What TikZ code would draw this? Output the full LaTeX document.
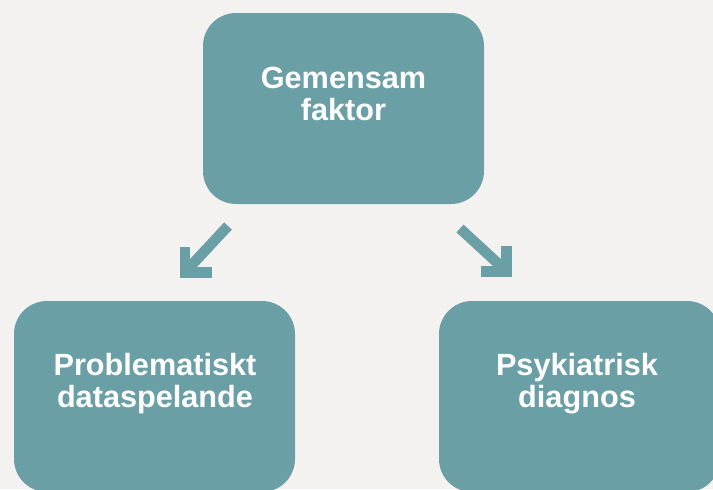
\documentclass[tikz,border=0pt]{standalone}
\usepackage{fontspec}
\setmainfont{Liberation Sans}
\definecolor{tealbox}{RGB}{106,159,165}
\definecolor{bgcol}{RGB}{244,242,241}
\begin{document}
\begin{tikzpicture}[x=0.75pt,y=-0.75pt,
  box/.style={fill=tealbox, rounded corners=24.75pt, minimum width=210.75pt, minimum height=143.25pt, inner sep=0pt, draw=none},
  lbl/.style={text=white, font=\bfseries\fontsize{23}{24}\selectfont, align=center, inner sep=0pt},
  arr/.style={draw=tealbox, line width=7.9pt},
  arrhead/.style={draw=tealbox, line width=7.9pt, miter limit=10}
]
\fill[bgcol] (0,0) rectangle (713,489);
\useasboundingbox (0,0) rectangle (713,489);
\begin{scope}
  \clip (0,0) rectangle (713,489);
  \node[box] (top) at (343.5,108.5) {};
  \node[box] (left) at (154.5,396.5) {};
  \node[box] (right) at (579.5,396.5) {};
\end{scope}
\node[lbl] (toptext) at (343.5,93.5) {Gemensam\\faktor};
\node[lbl] (lefttext) at (155,384) {Problematiskt\\dataspelande};
\node[lbl] (righttext) at (577,384) {Psykiatrisk\\diagnos};
% left arrow
\coordinate (la1) at (228,226);
\coordinate (la2) at (187,270);
\coordinate (lh1) at (185,247);
\coordinate (lh2) at (185,272.5);
\coordinate (lh3) at (212,272.5);
\draw[arr] (la1) -- (la2);
\draw[arrhead] (lh1) -- (lh2) -- (lh3);
% right arrow
\coordinate (ra1) at (460,228.5);
\coordinate (ra2) at (504,269);
\coordinate (rh1) at (506.5,246);
\coordinate (rh2) at (506.5,271.7);
\coordinate (rh3) at (480.7,271.7);
\draw[arr] (ra1) -- (ra2);
\draw[arrhead] (rh1) -- (rh2) -- (rh3);
\end{tikzpicture}
\end{document}
